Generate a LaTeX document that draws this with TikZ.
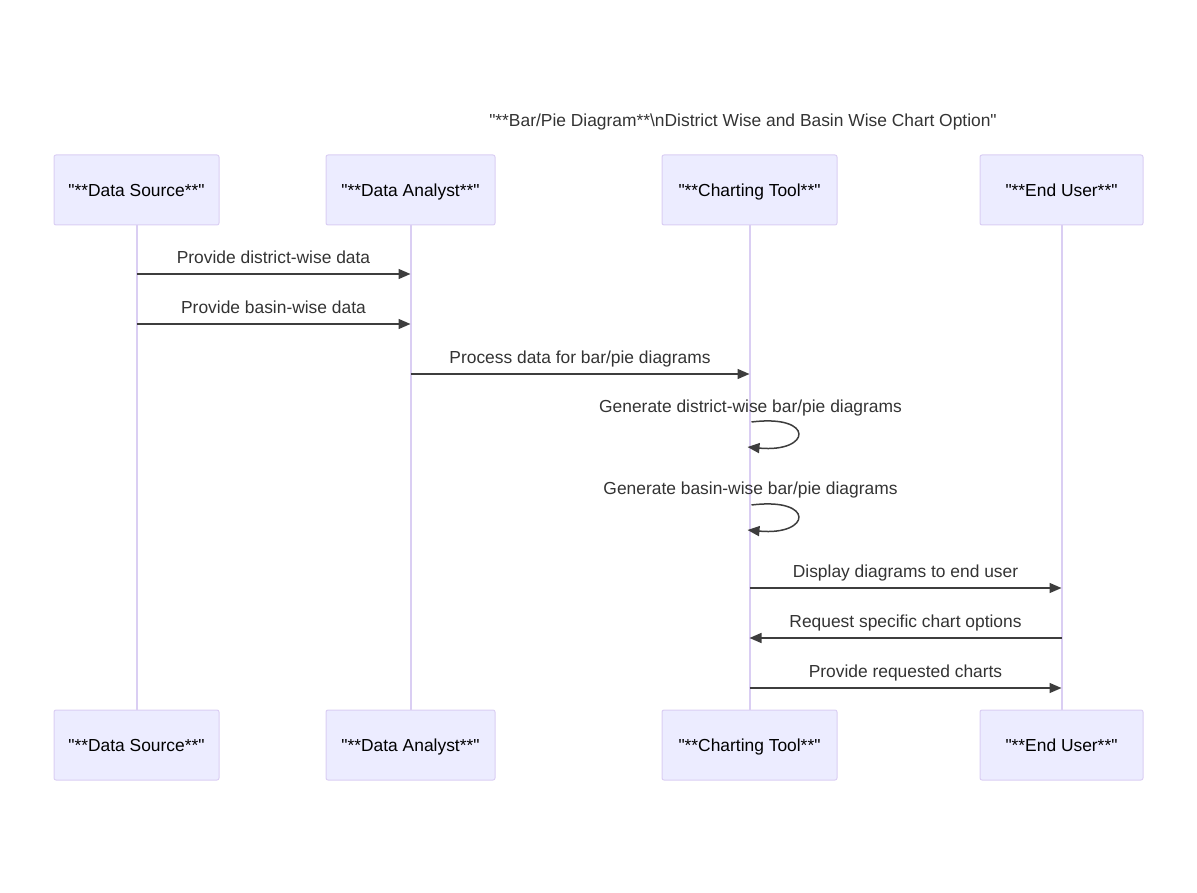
\documentclass[tikz,border=0pt]{standalone}
\usepackage{fontspec}
\setmainfont{Liberation Sans}[Ligatures=TeXOff]
\usepackage{xcolor}
\usetikzlibrary{arrows.meta, calc}
\definecolor{actorFill}{RGB}{236,236,255}
\definecolor{actorLine}{RGB}{218,206,243}
\definecolor{darkText}{RGB}{51,51,51}
\tikzset{
    actorbox/.style={
        rectangle,
        draw=actorLine,
        rounded corners=2pt,
        align=center,
        fill=actorFill,
        minimum height=70pt,
        line width=1pt,
        text height=14.5pt,
        text depth=1.5pt,
        font=\fontsize{17.4}{20}\selectfont
    },
    lifeline/.style={draw=actorLine, line width=2pt},
    msgarrow/.style={-{Triangle[length=12pt, width=10pt]}, line width=1.5pt, draw=darkText!95},
    msglabel/.style={text=darkText, font=\fontsize{17.4}{20}\selectfont, inner sep=0pt, text height=12.5pt, text depth=3.5pt}
}
\begin{document}
\begin{tikzpicture}[x=1pt,y=-1pt]
        \useasboundingbox (0,0) rectangle (1197,893);
        \node[msglabel] (title) at (743,122) {"**Bar/Pie Diagram**\textbackslash nDistrict Wise and Basin Wise Chart Option"};

        \foreach \x/\w/\id/\name in {136.5/165/src/Data Source,410.5/169/ana/Data Analyst,749.5/175/tool/Charting Tool,1061.5/163/usr/End User} {
            \node[actorbox, minimum width=\w pt] (\id top) at (\x,190) {"**\name**"};
            \node[actorbox, minimum width=\w pt] (\id bot) at (\x,745) {"**\name**"};
            \draw[lifeline] (\id top) -- (\id bot);
        }

        % message rows
        \foreach \r/\y in {1/274,2/324,3/374,4/422,5/505,6/588,7/638,8/688}
            \coordinate (r\r) at (0,\y);

        \draw[msgarrow] (srctop |- r1) -- node[msglabel, yshift=15pt]{Provide district-wise data} (anatop |- r1);
        \draw[msgarrow] (srctop |- r2) -- node[msglabel, yshift=15pt]{Provide basin-wise data} (anatop |- r2);
        \draw[msgarrow] (anatop |- r3) -- node[msglabel, yshift=15pt]{Process data for bar/pie diagrams} (tooltop |- r3);

        \node[msglabel] (loop1) at (750.5,408) {Generate district-wise bar/pie diagrams};
        \draw[msgarrow] ($(tooltop |- r4)+(2,0)$) .. controls +(64,-8) and +(64,6) .. ($(tooltop |- r4)+(-2,25)$);
        \node[msglabel] (loop2) at (750.5,490) {Generate basin-wise bar/pie diagrams};
        \draw[msgarrow] ($(tooltop |- r5)+(2,0)$) .. controls +(64,-8) and +(64,6) .. ($(tooltop |- r5)+(-2,25)$);

        \draw[msgarrow] (tooltop |- r6) -- node[msglabel, yshift=15pt]{Display diagrams to end user} (usrtop |- r6);
        \draw[msgarrow] (usrtop |- r7) -- node[msglabel, yshift=15pt]{Request specific chart options} (tooltop |- r7);
        \draw[msgarrow] (tooltop |- r8) -- node[msglabel, yshift=15pt]{Provide requested charts} (usrtop |- r8);
    \end{tikzpicture}
\end{document}
